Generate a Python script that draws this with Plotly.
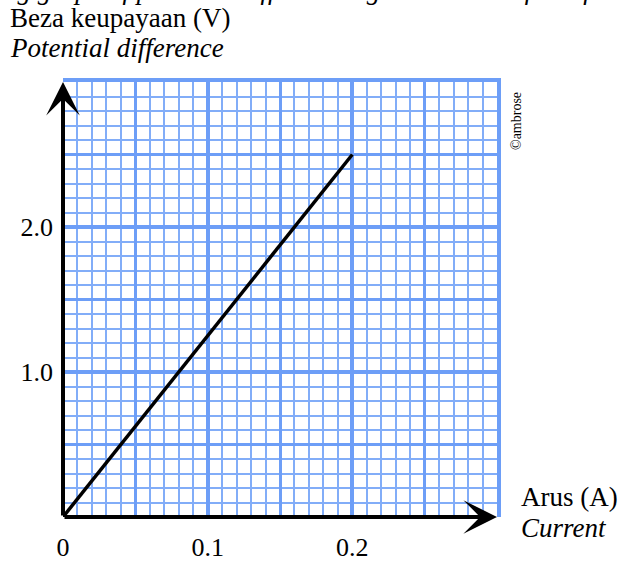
import plotly.graph_objects as go

# ---- data ----
current = [0.0, 0.2]          # A
voltage = [0.0, 2.5]          # V
x_tick_vals = [0.0, 0.1, 0.2]
x_tick_text = ["0", "0.1", "0.2"]
y_tick_vals = [1.0, 2.0]
y_tick_text = ["1.0", "2.0"]
x_range = [0.0, 0.3]
y_range = [0.0, 3.0]

W, H = 622, 562
L, R, T, B = 63, 125, 82, 45
PW, PH = W - L - R, H - T - B

def px_x(px):
    return (px - L) / PW

def px_y(py):
    return (H - B - py) / PH

SERIF = "Liberation Serif, Times New Roman, serif"
GRID = "#6d9ef7"
MINOR = "#82adf8"

fig = go.Figure()
fig.add_trace(go.Scatter(x=[], y=[], showlegend=False, hoverinfo="skip"))
fig.add_trace(go.Scatter(x=current, y=voltage, mode="lines",
                         line=dict(color="black", width=3.5),
                         xaxis="x2", yaxis="y2", showlegend=False))

fig.update_layout(
    width=W, height=H,
    margin=dict(l=L, r=R, t=T, b=B, autoexpand=False),
    paper_bgcolor="white", plot_bgcolor="white",
    font=dict(family=SERIF, color="black"),
    xaxis=dict(range=x_range, tickmode="array", tickvals=x_tick_vals, ticktext=x_tick_text,
               showgrid=True, gridcolor=GRID, gridwidth=4, zeroline=False, showline=False,
               ticks="", tickfont=dict(size=26, family=SERIF), ticklabelstandoff=12,
               automargin=False,
               minor=dict(tickmode="linear", tick0=0, dtick=0.01, showgrid=True,
                          gridcolor=MINOR, gridwidth=2),
               fixedrange=True),
    yaxis=dict(range=y_range, tickmode="array", tickvals=y_tick_vals, ticktext=y_tick_text,
               showgrid=True, gridcolor=GRID, gridwidth=4, zeroline=False, showline=False,
               ticks="", tickfont=dict(size=26, family=SERIF), ticklabelstandoff=9,
               automargin=False,
               minor=dict(tickmode="linear", tick0=0, dtick=0.1, showgrid=True,
                          gridcolor=MINOR, gridwidth=2),
               fixedrange=True),
    xaxis2=dict(range=x_range, overlaying="x", side="top", anchor="y2", automargin=False,
                tickmode="linear", tick0=0, dtick=0.05, showgrid=True, gridcolor=GRID,
                gridwidth=3, showticklabels=False, ticks="", zeroline=False,
                showline=True, linecolor=GRID, linewidth=4, fixedrange=True),
    yaxis2=dict(range=y_range, overlaying="y", side="right", anchor="x2", automargin=False,
                tickmode="linear", tick0=0, dtick=0.5, showgrid=True, gridcolor=GRID,
                gridwidth=3, showticklabels=False, ticks="", zeroline=False,
                showline=True, linecolor=GRID, linewidth=4, fixedrange=True),
)

# axis arrows
fig.add_annotation(x=x_range[1], y=0, ax=0, ay=0, xref="x2", yref="y2", axref="x2", ayref="y2",
                   text="", showarrow=True, arrowhead=3, arrowsize=1.4, arrowwidth=4,
                   arrowcolor="black")
fig.add_annotation(x=0, y=y_range[1], ax=0, ay=0, xref="x2", yref="y2", axref="x2", ayref="y2",
                   text="", showarrow=True, arrowhead=3, arrowsize=1.4, arrowwidth=4,
                   arrowcolor="black")

def label(text, px, py, size=27, italic=False, xanchor="left", angle=0):
    fig.add_annotation(x=px_x(px), y=px_y(py), xref="paper", yref="paper",
                       text=f"<i>{text}</i>" if italic else text, showarrow=False,
                       xanchor=xanchor, yanchor="middle", textangle=angle,
                       font=dict(size=size, family=SERIF, color="black"))

label("ng graph of potential difference against current for a filament", 2, -10, italic=True)
label("Beza keupayaan (V)", 8, 18)
label("Potential difference", 8, 48, italic=True)
label("Arus (A)", 519, 497)
label("Current", 519, 528, italic=True)
label("©ambrose", 517, 121, size=14, xanchor="center", angle=-90)

fig.write_html("out.html", config={"displayModeBar": False, "staticPlot": True},
               post_script="document.body.style.margin='0';document.body.style.overflow='hidden';")
